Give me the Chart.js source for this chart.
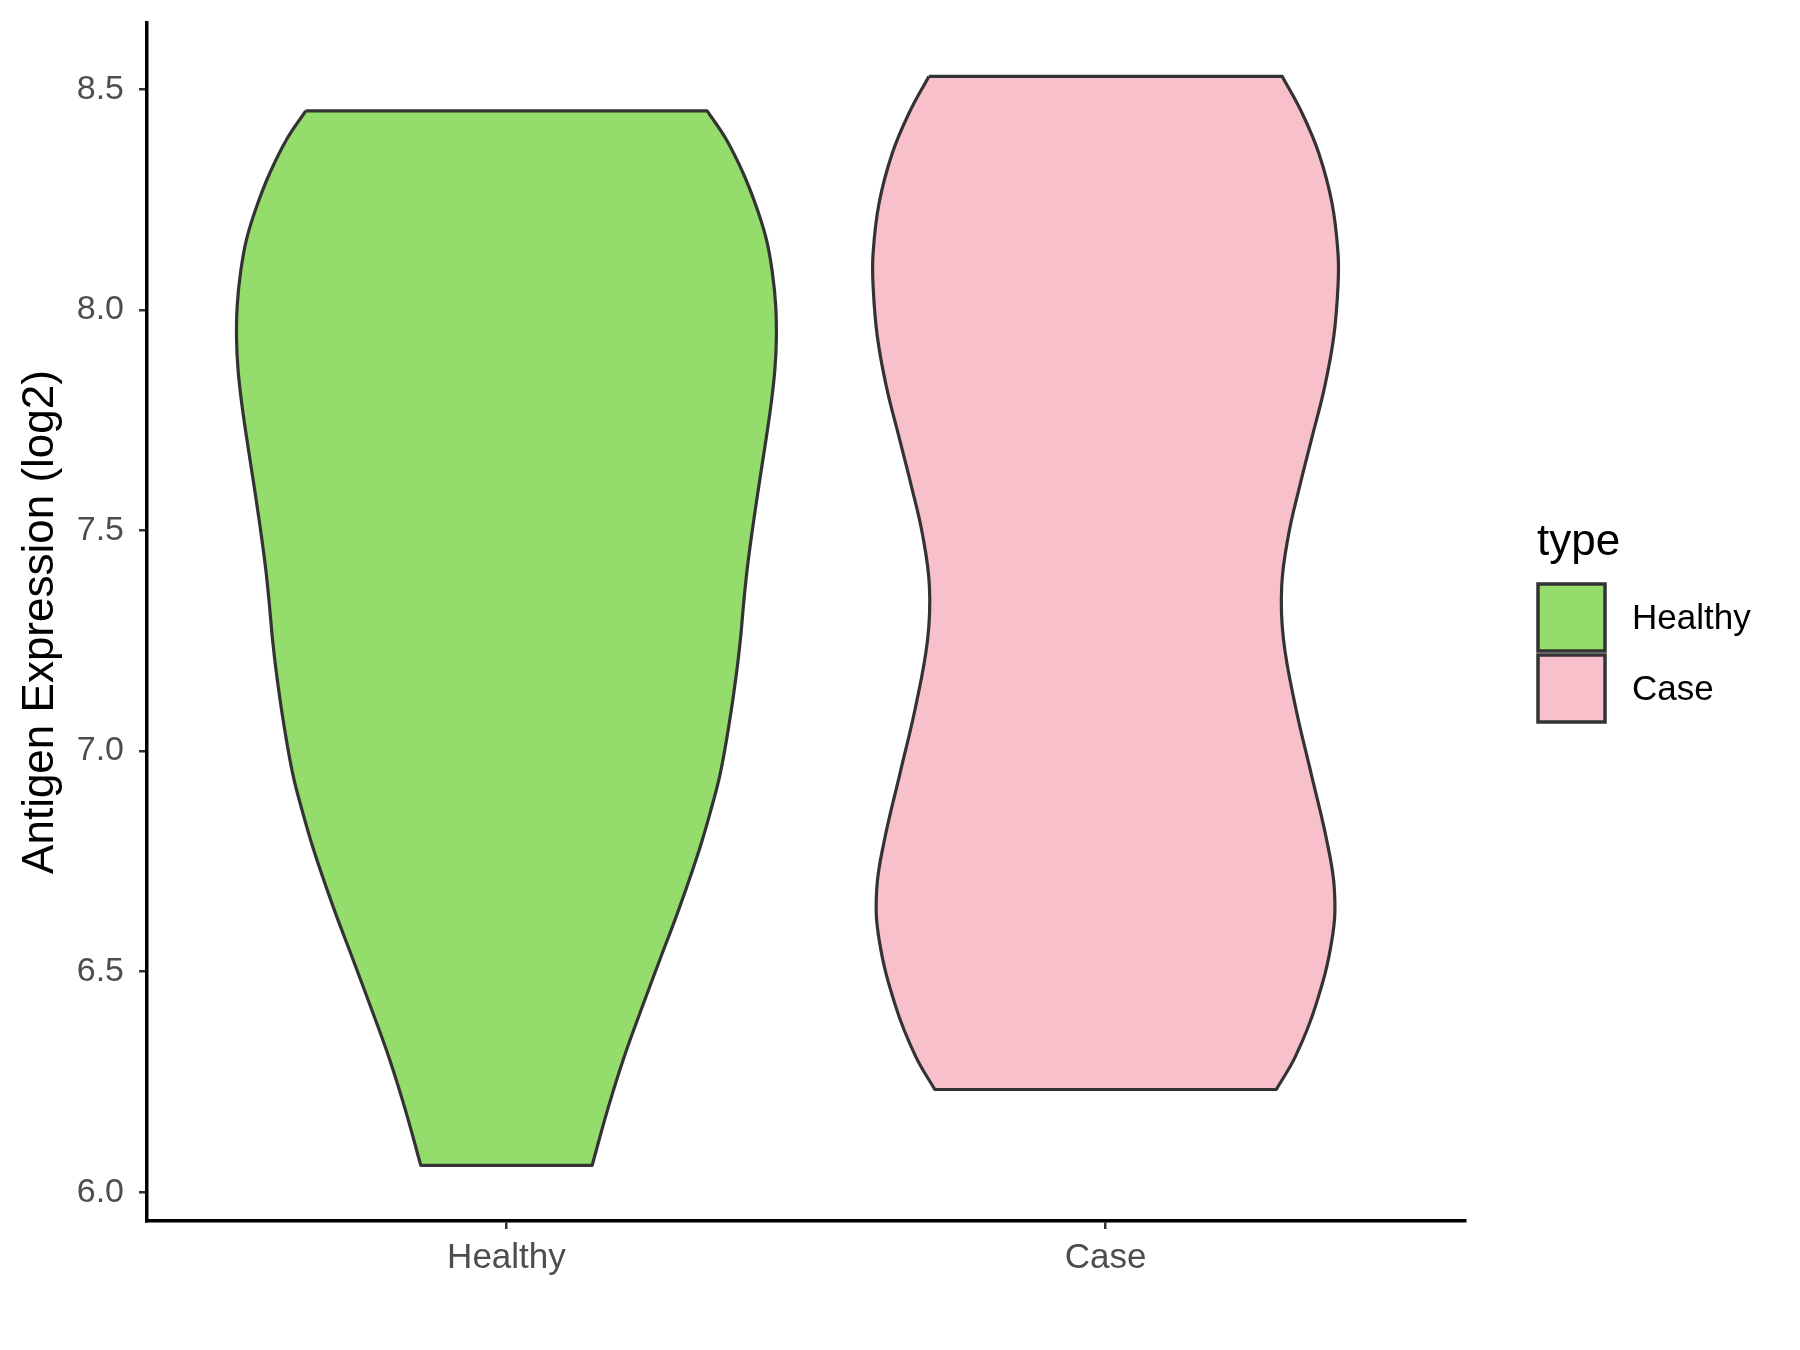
<!DOCTYPE html>
<html>
<head>
<meta charset="utf-8">
<script src="https://cdn.jsdelivr.net/npm/chart.js@4.4.1/dist/chart.umd.min.js"></script>
<style>
  html, body { margin: 0; padding: 0; background: #fff; }
  canvas { display: block; }
</style>
</head>
<body>
<canvas id="violin" width="1800" height="1350"></canvas>
<script>
// categories and legend
const categories = ["Healthy", "Case"];
const fills = ["#94DC6B", "#F7C0CB"];
const yTicks = [6.0, 6.5, 7.0, 7.5, 8.0, 8.5];

// violin outlines: expression value and half width (x units)
const healthyY = [8.451, 8.386, 8.310, 8.234, 8.159, 8.083, 8.008, 7.932, 7.864, 7.789, 7.713, 7.638, 7.562, 7.487, 7.411, 7.336, 7.260, 7.177, 7.064, 6.950, 6.875, 6.777, 6.648, 6.527, 6.407, 6.301, 6.188, 6.061];
const healthyW = [0.335, 0.367, 0.395, 0.417, 0.434, 0.444, 0.4495, 0.4505, 0.448, 0.442, 0.434, 0.4255, 0.417, 0.409, 0.4017, 0.396, 0.391, 0.384, 0.372, 0.357, 0.343, 0.322, 0.2895, 0.256, 0.223, 0.195, 0.169, 0.143];
const caseY = [8.529, 8.446, 8.355, 8.242, 8.129, 8.053, 7.940, 7.827, 7.713, 7.600, 7.487, 7.373, 7.253, 7.101, 6.950, 6.799, 6.686, 6.573, 6.422, 6.308, 6.233];
const caseW = [0.295, 0.328, 0.356, 0.378, 0.388, 0.388, 0.381, 0.366, 0.345, 0.324, 0.305, 0.294, 0.297, 0.317, 0.343, 0.369, 0.382, 0.378, 0.3505, 0.317, 0.285];

// closed outline: down the left side, across the bottom, up the right side, across the top
// corner points are repeated so the flat ends stay straight
function outline(center, ys, ws) {
  const n = ys.length;
  const pts = [];
  for (let i = 0; i < n; i++) pts.push({ x: center - ws[i], y: ys[i] });
  pts.push({ x: center - ws[n - 1], y: ys[n - 1] });
  pts.push({ x: center + ws[n - 1], y: ys[n - 1] });
  for (let i = n - 1; i >= 0; i--) pts.push({ x: center + ws[i], y: ys[i] });
  pts.push({ x: center + ws[0], y: ys[0] });
  pts.push({ x: center - ws[0], y: ys[0] });
  return pts;
}

const violins = [
  outline(1, healthyY, healthyW),
  outline(2, caseY, caseW)
];

const FONT = "'Liberation Sans', Arial, sans-serif";

// ggplot style legend on the right
const legendPlugin = {
  id: "typeLegend",
  afterDraw(chart) {
    const ctx = chart.ctx;
    ctx.save();
    ctx.fillStyle = "#000";
    ctx.font = "44px " + FONT;
    ctx.textAlign = "left";
    ctx.textBaseline = "alphabetic";
    ctx.fillText("type", 1537, 555);
    categories.forEach((name, i) => {
      const top = 584 + i * 71;
      ctx.fillStyle = fills[i];
      ctx.fillRect(1538, top, 67, 67);
      ctx.strokeStyle = "#333333";
      ctx.lineWidth = 3.5;
      ctx.strokeRect(1538, top, 67, 67);
      ctx.fillStyle = "#000";
      ctx.font = "35px " + FONT;
      ctx.textBaseline = "middle";
      ctx.fillText(name, 1632, top + 35);
    });
    ctx.restore();
  }
};

new Chart(document.getElementById("violin"), {
  type: "scatter",
  data: {
    datasets: violins.map((pts, i) => ({
      label: categories[i],
      data: pts,
      showLine: true,
      fill: "shape",
      backgroundColor: fills[i],
      borderColor: "#333333",
      borderWidth: 3.2,
      borderJoinStyle: "round",
      tension: 0.4,
      pointRadius: 0,
      pointHoverRadius: 0
    }))
  },
  options: {
    responsive: false,
    animation: false,
    devicePixelRatio: 1,
    layout: { padding: { left: 0, top: 23, right: 335, bottom: 0 } },
    plugins: {
      legend: { display: false },
      tooltip: { enabled: false }
    },
    scales: {
      x: {
        type: "linear",
        min: 0.4,
        max: 2.6,
        afterBuildTicks: s => { s.ticks = categories.map((c, i) => ({ value: i + 1 })); },
        afterFit: s => { s.height = 129; s.paddingLeft = 0; s.paddingRight = 0; },
        ticks: {
          callback: v => categories[v - 1] || "",
          color: "#4D4D4D",
          font: { family: FONT, size: 35 },
          padding: 8,
          maxRotation: 0
        },
        grid: { drawOnChartArea: false, drawTicks: true, tickLength: 8, color: "#333333", lineWidth: 2.5 },
        border: { color: "#000", width: 3.5 }
      },
      y: {
        type: "linear",
        min: 5.935,
        max: 8.65,
        afterBuildTicks: s => { s.ticks = yTicks.map(v => ({ value: v })); },
        afterFit: s => { s.width = 147; s.paddingTop = 0; s.paddingBottom = 0; },
        ticks: {
          callback: v => v.toFixed(1),
          color: "#4D4D4D",
          font: { family: FONT, size: 34 },
          padding: 15
        },
        grid: { drawOnChartArea: false, drawTicks: true, tickLength: 8, color: "#333333", lineWidth: 2.5 },
        border: { color: "#000", width: 3.5 },
        title: {
          display: true,
          text: "Antigen Expression (log2)",
          color: "#000",
          font: { family: FONT, size: 44, lineHeight: 1.2 },
          padding: { top: 14, bottom: 0 }
        }
      }
    }
  },
  plugins: [legendPlugin]
});
</script>
</body>
</html>
